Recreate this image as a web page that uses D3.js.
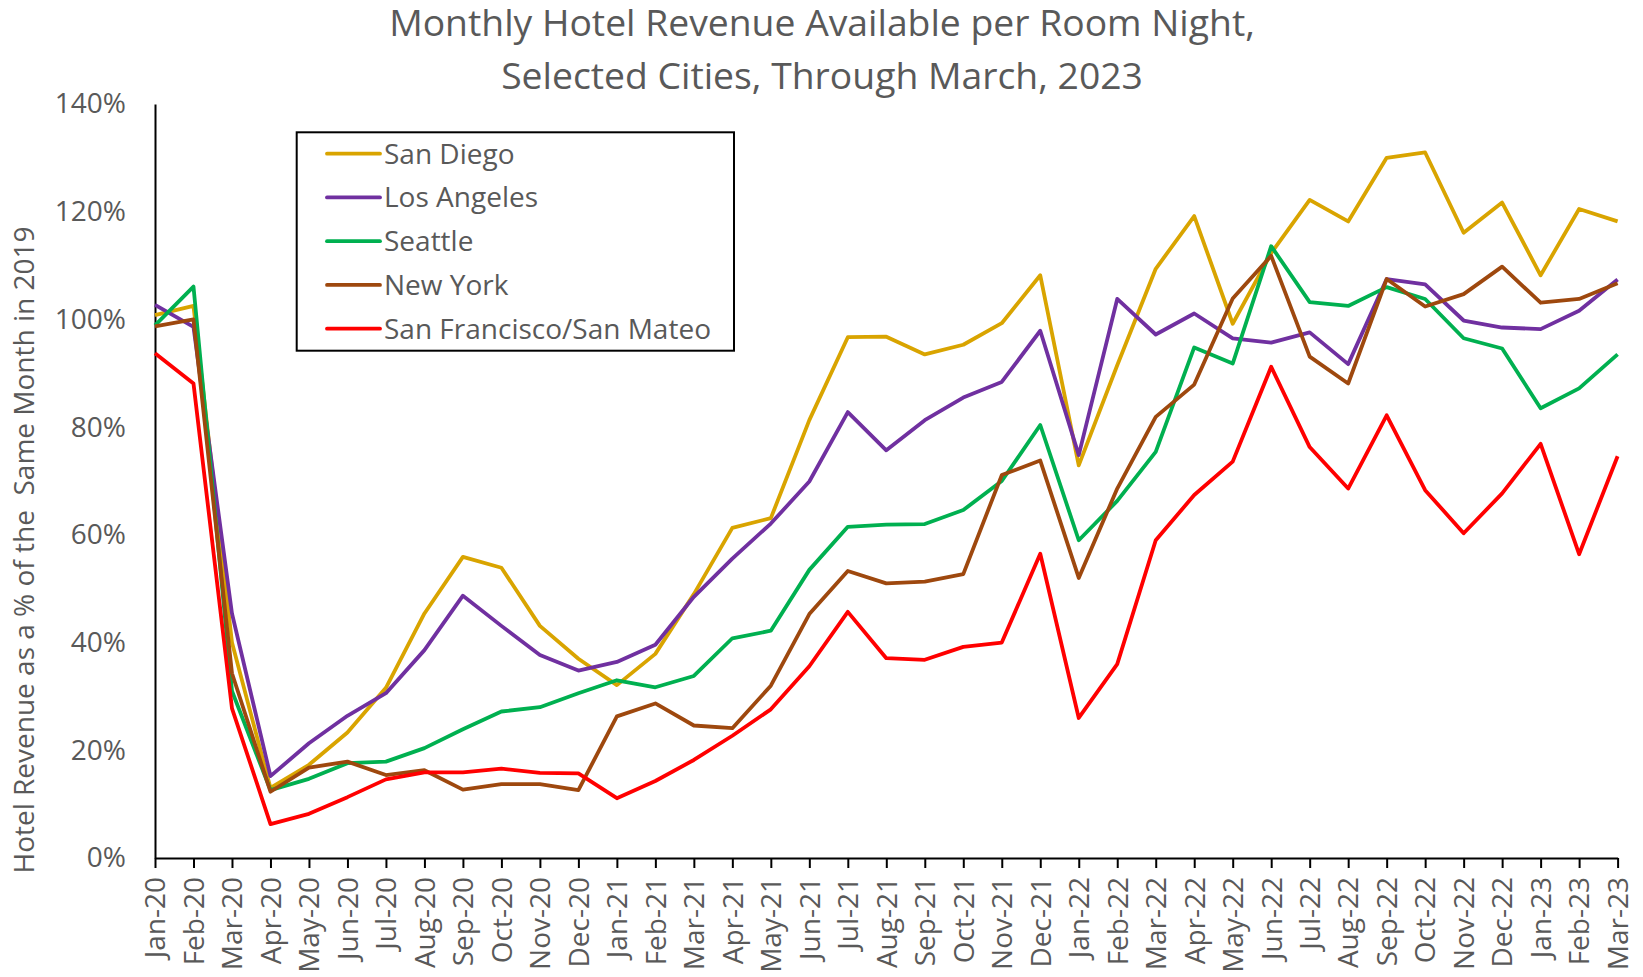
<!DOCTYPE html>
<html>
<head>
<meta charset="utf-8">
<script src="https://cdn.jsdelivr.net/npm/d3@7"></script>
<style>
  body { margin: 0; background: #fff; }
  svg { display: block; font-family: "Open Sans", sans-serif; }
</style>
</head>
<body>
<div class="content"></div>
<script>
//--> Data
const months = [
  "Jan-20", "Feb-20", "Mar-20", "Apr-20", "May-20", "Jun-20", "Jul-20", "Aug-20",
  "Sep-20", "Oct-20", "Nov-20", "Dec-20", "Jan-21", "Feb-21", "Mar-21", "Apr-21",
  "May-21", "Jun-21", "Jul-21", "Aug-21", "Sep-21", "Oct-21", "Nov-21", "Dec-21",
  "Jan-22", "Feb-22", "Mar-22", "Apr-22", "May-22", "Jun-22", "Jul-22", "Aug-22",
  "Sep-22", "Oct-22", "Nov-22", "Dec-22", "Jan-23", "Feb-23", "Mar-23"
];

const cities = ["San Diego", "Los Angeles", "Seattle", "New York", "San Francisco/San Mateo"];

const sanDiego = [100.8, 102.5, 40, 13, 17.3, 23.3, 31.6, 45.4, 55.9, 53.9, 43.1, 37.0, 32.1,
  37.9, 49.0, 61.3, 63.1, 81.3, 96.7, 96.8, 93.5, 95.3, 99.3, 108.2, 72.9, 91.5, 109.4, 119.2,
  99.2, 112.3, 122.2, 118.2, 130.0, 131.0, 116.1, 121.7, 108.2, 120.5, 118.2];

const losAngeles = [102.7, 98.6, 45.4, 15.2, 21.3, 26.4, 30.6, 38.6, 48.7, 43.1, 37.7, 34.8, 36.4,
  39.6, 48.5, 55.6, 62.1, 69.9, 82.8, 75.7, 81.3, 85.5, 88.4, 97.9, 74.8, 103.8, 97.2, 101.1,
  96.5, 95.7, 97.6, 91.7, 107.5, 106.5, 99.8, 98.5, 98.2, 101.6, 107.4];

const seattle = [98.9, 106.1, 31, 12.6, 14.7, 17.6, 17.9, 20.4, 23.9, 27.2, 28.0, 30.6, 33.0,
  31.7, 33.8, 40.8, 42.2, 53.5, 61.5, 61.9, 62.0, 64.6, 70.0, 80.4, 59.0, 66.3, 75.4, 94.8,
  91.8, 113.6, 103.2, 102.5, 106.0, 103.8, 96.5, 94.6, 83.5, 87.2, 93.5];

const newYork = [98.7, 100.0, 34.3, 12.3, 16.8, 17.9, 15.4, 16.3, 12.7, 13.7, 13.7, 12.6, 26.3,
  28.7, 24.6, 24.1, 32.0, 45.3, 53.3, 51.0, 51.3, 52.7, 71.1, 73.8, 52.0, 68.6, 81.9, 87.9,
  103.9, 111.8, 93.1, 88.1, 107.5, 102.4, 104.7, 109.8, 103.1, 103.8, 106.7];

const sanFrancisco = [93.7, 88.1, 27.8, 6.3, 8.2, 11.3, 14.6, 15.9, 15.9, 16.6, 15.8, 15.7, 11.1,
  14.3, 18.2, 22.7, 27.6, 35.6, 45.7, 37.1, 36.8, 39.2, 40.0, 56.5, 26.0, 36.0, 59.0, 67.4,
  73.6, 91.2, 76.3, 68.6, 82.2, 68.3, 60.3, 67.7, 76.9, 56.4, 74.6];

const yTicks = [0, 20, 40, 60, 80, 100, 120, 140];

const titleLines = [
  "Monthly Hotel Revenue Available per Room Night,",
  "Selected Cities, Through March, 2023"
];
const yTitle = "Hotel Revenue as a % of the  Same Month in 2019";

//--> Constants
const width = 1643;
const height = 977;
const margin = { top: 104, right: 25.4, bottom: 119, left: 155 };
const textColor = "#595959";
const fontSize = 28;
const lineWidth = 3.8;

const series = [sanDiego, losAngeles, seattle, newYork, sanFrancisco].map((values, i) => ({
  name: cities[i],
  values: values.map((v, j) => ({ month: months[j], value: v }))
}));

const colorScale = d3
  .scaleOrdinal()
  .domain(cities)
  .range(["#D9A400", "#7030A0", "#00B050", "#9E480E", "#FF0000"]);

const svg = d3
  .select(".content")
  .append("svg")
  .attr("width", width)
  .attr("height", height);

svg.append("rect").attr("width", width).attr("height", height).attr("fill", "#fff");

//--> Scales
const x = d3
  .scalePoint()
  .domain(months)
  .range([margin.left, width - margin.right]);

const y = d3
  .scaleLinear()
  .domain([0, 140])
  .range([height - margin.bottom, margin.top]);

//--> Title
svg
  .append("g")
  .selectAll("text")
  .data(titleLines)
  .enter()
  .append("text")
  .attr("x", 822)
  .attr("y", (d, i) => 36 + i * 53)
  .attr("text-anchor", "middle")
  .attr("font-size", "37.3px")
  .attr("fill", textColor)
  .text(d => d);

//--> Y axis
const yAxis = svg
  .append("g")
  .attr("transform", `translate(${margin.left},0)`)
  .call(
    d3.axisLeft(y)
      .tickValues(yTicks)
      .tickFormat(d => d + "%")
      .tickSize(0)
      .tickPadding(29)
  );

yAxis.select(".domain").attr("stroke", "#000").attr("stroke-width", 2);
yAxis
  .selectAll("text")
  .attr("font-family", "Open Sans")
  .attr("font-size", `${fontSize}px`)
  .attr("fill", textColor);

//--> X axis
const xAxis = svg
  .append("g")
  .attr("transform", `translate(0,${height - margin.bottom})`)
  .call(d3.axisBottom(x).tickSize(10).tickSizeOuter(0));

xAxis.select(".domain").attr("stroke", "#000").attr("stroke-width", 2);
xAxis.selectAll(".tick line").attr("stroke", "#000").attr("stroke-width", 2);
xAxis
  .selectAll("text")
  .attr("font-family", "Open Sans")
  .attr("font-size", `${fontSize}px`)
  .attr("fill", textColor)
  .attr("transform", "rotate(-90)")
  .attr("text-anchor", "end")
  .attr("x", -19)
  .attr("y", 0)
  .attr("dy", "0.35em");

//--> Y axis title
svg
  .append("text")
  .attr("transform", "translate(34,550) rotate(-90)")
  .attr("text-anchor", "middle")
  .attr("font-size", `${fontSize}px`)
  .attr("fill", textColor)
  .style("white-space", "pre")
  .text(yTitle);

//--> Lines
const line = d3
  .line()
  .x(d => x(d.month))
  .y(d => y(d.value));

svg
  .append("g")
  .selectAll("path")
  .data(series)
  .enter()
  .append("path")
  .attr("d", d => line(d.values))
  .attr("fill", "none")
  .attr("stroke", d => colorScale(d.name))
  .attr("stroke-width", lineWidth)
  .attr("stroke-linejoin", "round");

//--> Legend
const legend = svg.append("g").attr("id", "legend");

legend
  .append("rect")
  .attr("x", 296.7)
  .attr("y", 132.3)
  .attr("width", 437.3)
  .attr("height", 218.4)
  .attr("fill", "#fff")
  .attr("stroke", "#000")
  .attr("stroke-width", 2);

const legendRow = d3
  .scalePoint()
  .domain(cities)
  .range([153.7, 328.7]);

legend
  .selectAll("line")
  .data(cities)
  .enter()
  .append("line")
  .attr("x1", 327)
  .attr("x2", 380)
  .attr("y1", d => legendRow(d))
  .attr("y2", d => legendRow(d))
  .attr("stroke", d => colorScale(d))
  .attr("stroke-width", lineWidth)
  .attr("stroke-linecap", "round");

legend
  .selectAll("text")
  .data(cities)
  .enter()
  .append("text")
  .attr("x", 384)
  .attr("y", d => legendRow(d))
  .attr("dy", "0.35em")
  .attr("font-size", "28px")
  .attr("fill", textColor)
  .text(d => d);
</script>
</body>
</html>
